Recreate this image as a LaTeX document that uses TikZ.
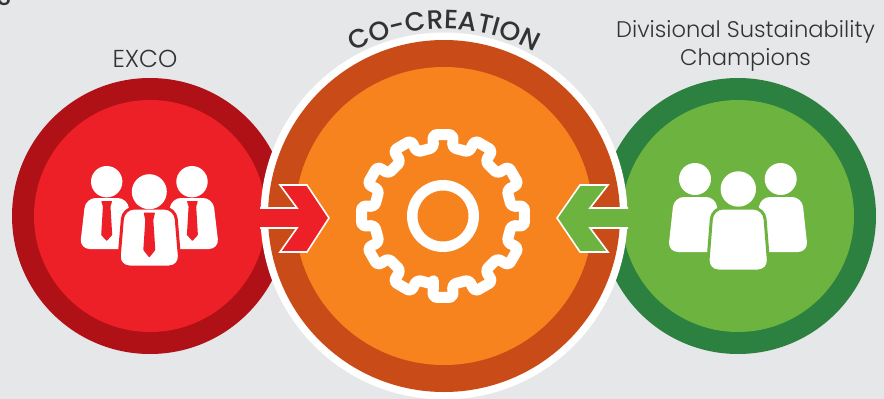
\documentclass[tikz,border=0pt]{standalone}
\usepackage{fontspec}
\setmainfont{Poppins}[UprightFont=* Light,BoldFont=* Medium]
\usetikzlibrary{decorations.text,calc}
\definecolor{bgc}{HTML}{E6E7E8}
\definecolor{redin}{HTML}{ED1F27}
\definecolor{redout}{HTML}{B01117}
\definecolor{orin}{HTML}{F7831F}
\definecolor{orout}{HTML}{C94C18}
\definecolor{grin}{HTML}{6DB33F}
\definecolor{grout}{HTML}{2C8040}
\definecolor{inkc}{HTML}{333333}
\newcommand{\personbody}[6]{% colour, cx, top, halftop, halfbot, bottom
  \path[fill=white,draw=#1,line width=3pt,rounded corners=11pt]
    ({#2-#4},#3) -- ({#2+#4},#3) -- ({#2+#5},#6) -- ({#2-#5},#6) -- cycle;}
\newcommand{\sidebody}[5]{% cx, top, halftop, halfbot, bottom
  \path[fill=white,rounded corners=10pt]
    ({#1-#3},#2) -- ({#1+#3},#2) -- ({#1+#4},#5) -- ({#1-#4},#5) -- cycle;}
\newcommand{\tietie}[8]{% cx, y top, y neck, y low, y tip, knot hw, neck hw, low hw
  \fill[redin,rounded corners=0.6pt]
    ({#1-#6},#2) -- ({#1+#6},#2) -- ({#1+#7},#3) -- ({#1+#8},#4) -- (#1,#5) -- ({#1-#8},#4) -- ({#1-#7},#3) -- cycle;}
\tikzset{
  x=1pt,y=-1pt,
  disc/.style={circle,inner sep=0pt,minimum size=#1},
  caption/.style={text=inkc,align=center},
  arrowshape/.style={draw=white,line width=1.6pt,miter limit=10},
  head/.style={fill=white},
}
\begin{document}
\begin{tikzpicture}
\useasboundingbox (0,0) rectangle (884,399);
\fill[bgc] (0,0) rectangle (884,399);
\begin{scope}
\clip (0,0) rectangle (884,399);
\node[text=inkc,font=\bfseries\fontsize{24}{26}\selectfont,anchor=base] (corner) at (4,5.5) {S};
% side circles
\node[disc=276pt,fill=redout] (excoOuter) at (150,216) {};
\node[disc=232pt,fill=redin] (excoInner) at (150,216) {};
\node[disc=276pt,fill=grout] (champOuter) at (738,216) {};
\node[disc=232pt,fill=grin] (champInner) at (738,216) {};
% centre
\node[disc=367pt,fill=white] (ring) at (444,216) {};
\node[disc=352pt,fill=orout] (coOuter) at (444,216) {};
\node[disc=298pt,fill=orin] (coInner) at (444,216) {};
\end{scope}
% arrows
\draw[arrowshape,fill=redin] (260,208) -- (297,208) -- (280,185) -- (307,185) -- (329,218) -- (307,252) -- (280,252) -- (297,228) -- (260,228);
\fill[redin] (255,209) rectangle (272,227);
\draw[arrowshape,fill=grin] (628,208) -- (590,208) -- (608,185) -- (580,185) -- (557,218) -- (580,252) -- (608,252) -- (590,228) -- (628,228);
\fill[grin] (616,209) rectangle (634,227);
% gear
\node[disc=61.5pt,draw=white,line width=10.5pt] (hub) at (443,216) {};
\draw[white,line width=11pt,rounded corners=3.5pt,line join=round]
  ($(443,216)+(98:69)$)
  \foreach \a in {90,60,30,0,-30,-60,-90,-120,-150,-180,-210,-240}{
    -- ($(443,216)+({\a+8}:69)$) -- ($(443,216)+({\a+7}:82)$) -- ($(443,216)+({\a-7}:82)$) -- ($(443,216)+({\a-8}:69)$)
  } -- cycle;
% people, EXCO
\sidebody{106.7}{198}{21}{27}{249}
\sidebody{192}{198}{21}{27}{249}
\personbody{redin}{149.3}{208}{26}{31}{267}
\fill[head] (106.7,181.7) circle (15.7);
\fill[head] (192,181.7) circle (15.7);
\fill[head] (149.3,191.7) circle (17.5);
\tietie{106.7}{201}{206.5}{235}{241}{5.5}{3.8}{5.5}
\tietie{192.4}{201}{206.5}{235}{241}{5.5}{3.8}{5.5}
\tietie{149.3}{212.7}{220}{250}{257.5}{5.7}{4}{6}
% people, champions
\sidebody{695}{197}{21}{27}{252}
\sidebody{781}{197}{21}{27}{252}
\personbody{grin}{738.2}{208}{26}{31}{271}
\fill[head] (695,179) circle (16);
\fill[head] (780.7,179) circle (16);
\fill[head] (738.3,189) circle (17.7);
% labels
\node[caption,font=\fontsize{24.5}{28}\selectfont] (excoLabel) at (145,59) {EXCO};
\node[caption,font=\fontsize{22.6}{28}\selectfont] (champLabel) at (745.5,46) {Divisional Sustainability\\Champions};
\begin{scope}[y=1pt]
\path[postaction={decorate,decoration={text along path,text align=center,
   text={|\fontsize{26.5}{30}\bfseries\selectfont\color{inkc}|CO-CREATION}}}]
   (444,-216) ++(120:187) arc[start angle=120,end angle=60,radius=187];
\end{scope}
\end{tikzpicture}
\end{document}
